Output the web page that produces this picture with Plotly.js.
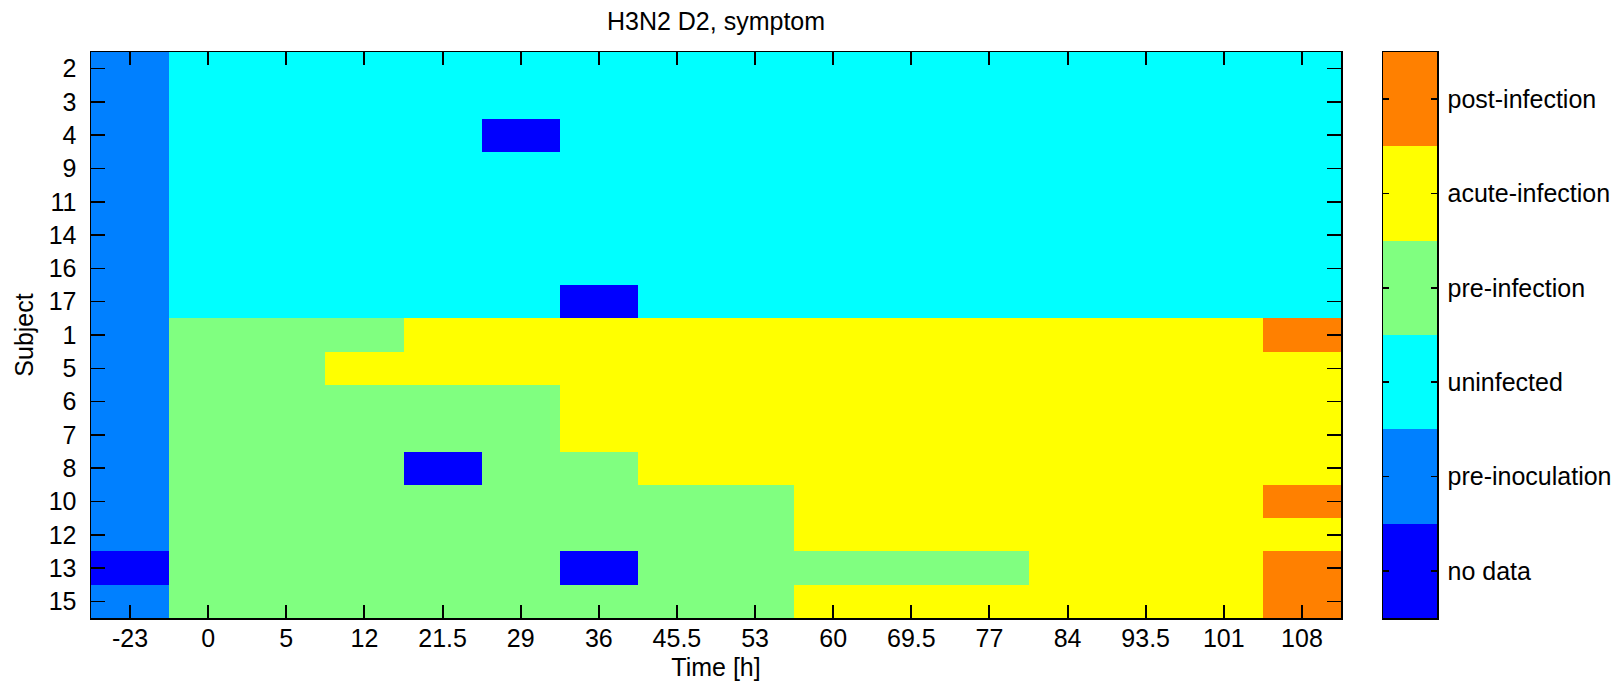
<!DOCTYPE html>
<html><head><meta charset="utf-8">
<script src="https://cdn.plot.ly/plotly-3.0.1.min.js"></script>
<style>html,body{margin:0;padding:0;background:#fff}</style>
</head><body><div id="chart" style="width:1614px;height:688px"></div>
<script>
// Time points (x categories)
const timeLabels = ['-23','0','5','12','21.5','29','36','45.5','53','60','69.5','77','84','93.5','101','108'];
// Subjects (y categories, top to bottom)
const subjects = ['2','3','4','9','11','14','16','17','1','5','6','7','8','10','12','13','15'];
// State codes: 0 no data, 1 pre-inoculation, 2 uninfected, 3 pre-infection, 4 acute-infection, 5 post-infection
const stateNames = ['no data','pre-inoculation','uninfected','pre-infection','acute-infection','post-infection'];
const stateColors = ['#0000FF','#0080FF','#00FFFF','#80FF80','#FFFF00','#FF8000'];

const subj2  = [1,2,2,2,2,2,2,2,2,2,2,2,2,2,2,2];
const subj3  = [1,2,2,2,2,2,2,2,2,2,2,2,2,2,2,2];
const subj4  = [1,2,2,2,2,0,2,2,2,2,2,2,2,2,2,2];
const subj9  = [1,2,2,2,2,2,2,2,2,2,2,2,2,2,2,2];
const subj11 = [1,2,2,2,2,2,2,2,2,2,2,2,2,2,2,2];
const subj14 = [1,2,2,2,2,2,2,2,2,2,2,2,2,2,2,2];
const subj16 = [1,2,2,2,2,2,2,2,2,2,2,2,2,2,2,2];
const subj17 = [1,2,2,2,2,2,0,2,2,2,2,2,2,2,2,2];
const subj1  = [1,3,3,3,4,4,4,4,4,4,4,4,4,4,4,5];
const subj5  = [1,3,3,4,4,4,4,4,4,4,4,4,4,4,4,4];
const subj6  = [1,3,3,3,3,3,4,4,4,4,4,4,4,4,4,4];
const subj7  = [1,3,3,3,3,3,4,4,4,4,4,4,4,4,4,4];
const subj8  = [1,3,3,3,0,3,3,4,4,4,4,4,4,4,4,4];
const subj10 = [1,3,3,3,3,3,3,3,3,4,4,4,4,4,4,5];
const subj12 = [1,3,3,3,3,3,3,3,3,4,4,4,4,4,4,4];
const subj13 = [0,3,3,3,3,3,0,3,3,3,3,3,4,4,4,5];
const subj15 = [1,3,3,3,3,3,3,3,3,4,4,4,4,4,4,5];

const zMain = [subj2,subj3,subj4,subj9,subj11,subj14,subj16,subj17,subj1,subj5,subj6,subj7,subj8,subj10,subj12,subj13,subj15];

const cs = [];
stateColors.forEach((c,i)=>{ cs.push([i/6,c]); cs.push([(i+1)/6,c]); });

const FONT = 'Liberation Sans, Arial, sans-serif';
const W = 1614, H = 688;
const L = 91, R = 1437, T = 52, B = 618;
const pw = R - L;
const mainRight = (1341 - L) / pw;
const cbLeft = (1383 - L) / pw;

const traces = [
  {type:'heatmap', x: timeLabels, y: subjects, z: zMain, colorscale: cs, zmin:-0.5, zmax:5.5,
   showscale:false, xaxis:'x', yaxis:'y', hoverinfo:'x+y+z'},
  {type:'heatmap', x: ['c'], y: stateNames, z: stateNames.map((n,i)=>[i]), colorscale: cs, zmin:-0.5, zmax:5.5,
   showscale:false, xaxis:'x2', yaxis:'y2', hoverinfo:'y'},
  // transparent trace on an overlaid x axis, only to carry the top/bottom tick marks
  {type:'heatmap', x: timeLabels, y: subjects, z: zMain, opacity:0, showscale:false, xaxis:'x3', yaxis:'y', hoverinfo:'skip'}
];

const layout = {
  width: W, height: H,
  margin: {l: L, r: W - R, t: T, b: H - B, pad: 0},
  paper_bgcolor:'#fff', plot_bgcolor:'#fff',
  font: {family: FONT, size: 25, color:'#000'},
  title: {text:'H3N2 D2, symptom', font:{family:FONT, size:25, color:'#000'},
          xref:'paper', x: (716 - L)/pw, xanchor:'center', yref:'container', y: 1 - 21.5/H, yanchor:'middle'},
  xaxis: {domain:[0, mainRight], type:'category', showline:true, linecolor:'#000', linewidth:1.5, mirror:'ticks',
          tickmode:'array', tickvals: timeLabels, ticktext: timeLabels, layer:'above traces',
          ticks:'inside', ticklen:13, tickwidth:2, tickcolor:'#000', showgrid:false, zeroline:false,
          tickfont:{size:25}, ticklabelstandoff: -3,
          title:{text:'Time [h]', font:{size:25}, standoff: 8}},
  xaxis3: {domain:[0, mainRight], type:'category', overlaying:'x', anchor:'y', side:'bottom',
           showline:false, mirror:'ticks', ticks:'inside', ticklen:13, tickwidth:2, tickcolor:'#000',
           showticklabels:false, showgrid:false, zeroline:false, layer:'above traces'},
  yaxis: {domain:[0,1], type:'category', autorange:'reversed', showline:true, linecolor:'#000', linewidth:1.5, mirror:'ticks',
          ticks:'inside', ticklen:14, tickwidth:1.5, tickcolor:'#000', showgrid:false, zeroline:false,
          tickfont:{size:25}, ticklabelstandoff: 8,
          title:{text:'Subject', font:{size:25}, standoff: 8}},
  xaxis2: {domain:[cbLeft, 1], anchor:'y2', showticklabels:false, ticks:'', showline:true, linecolor:'#000', linewidth:1.5,
           mirror:true, showgrid:false, zeroline:false},
  yaxis2: {domain:[0,1], anchor:'x2', side:'right', type:'category', showline:true, linecolor:'#000', linewidth:1.5,
           mirror:'ticks', ticks:'inside', ticklen:6, tickwidth:1.5, tickcolor:'#000', showgrid:false, zeroline:false,
           tickfont:{size:25}, ticklabelstandoff: 4}
};

Plotly.newPlot('chart', traces, layout, {displayModeBar:false, staticPlot:true});
</script></body></html>
